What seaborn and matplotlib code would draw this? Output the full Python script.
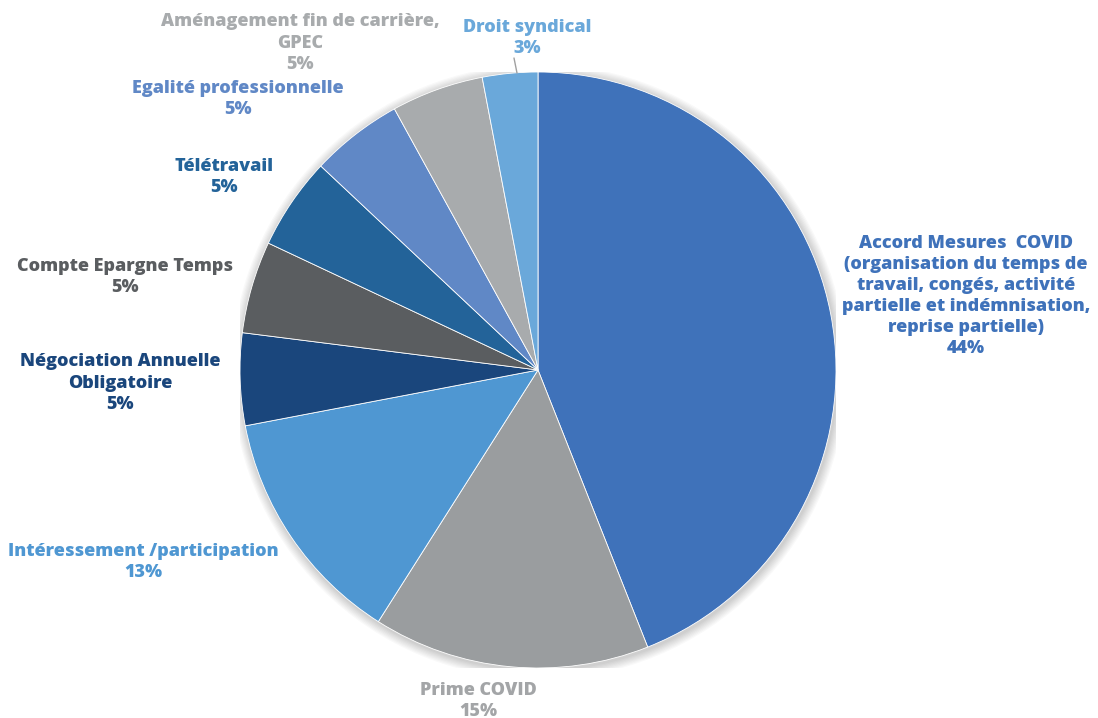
import matplotlib
matplotlib.use("Agg")
import matplotlib.pyplot as plt
import seaborn as sns
from matplotlib.patches import Circle

sns.set_theme(style="white")
plt.rcParams["font.family"] = ["Open Sans", "DejaVu Sans"]

categories = [
    "Accord Mesures  COVID\n(organisation du temps de\ntravail, congés, activité\npartielle et indémnisation,\nreprise partielle)",
    "Prime COVID",
    "Intéressement /participation",
    "Négociation Annuelle\nObligatoire",
    "Compte Epargne Temps",
    "Télétravail",
    "Egalité professionnelle",
    "Aménagement fin de carrière,\nGPEC",
    "Droit syndical",
]
shares = [44, 15, 13, 5, 5, 5, 5, 5, 3]
slice_colors = ["#3f72ba", "#9a9d9f", "#4f97d2", "#1a467c", "#5a5d60",
                "#236399", "#6088c6", "#a8abad", "#6aa8da"]
label_colors = ["#3f72ba", "#a3a5a7", "#4f97d2", "#1a467c", "#5a5d60",
                "#236399", "#6088c6", "#a8abad", "#6aa8da"]

# label anchor points in figure pixels (x from left, y from top)
label_pos = [(966, 296), (478, 701), (143, 562), (120, 383), (125, 277),
             (224, 177), (238, 99), (300, 43), (527, 38)]

W, H = 1098, 718
fig = plt.figure(figsize=(W / 100, H / 100), dpi=100)
fig.patch.set_facecolor("white")

cx, cy, r = 538, 370, 298
ax = fig.add_axes([(cx - r) / W, (H - cy - r) / H, 2 * r / W, 2 * r / H])
ax.set_aspect("equal")
ax.axis("off")

# soft drop shadow around the pie
for i in range(8):
    ax.add_patch(Circle((0.004, -0.006), 1.0 + 0.004 * (i + 1),
                        color="#000000", alpha=0.025, lw=0, zorder=0))

ax.pie(shares, colors=slice_colors, startangle=90, counterclock=False,
       radius=1.0, wedgeprops=dict(linewidth=0.6, edgecolor="white"),
       frame=False)
ax.set_xlim(-1, 1)
ax.set_ylim(-1, 1)

for name, val, col, (px, py) in zip(categories, shares, label_colors, label_pos):
    fig.text(px / W, 1 - py / H, f"{name}\n{val}%", ha="center", va="center",
             color=col, fontsize=13, fontweight=800, linespacing=1.32)

# leader line for the small slice
fig.add_artist(plt.Line2D([517 / W, 514 / W], [1 - 73 / H, 1 - 58 / H],
                          color="#a0a0a0", lw=1.0))

fig.savefig("out.png", dpi=100, facecolor="white")
